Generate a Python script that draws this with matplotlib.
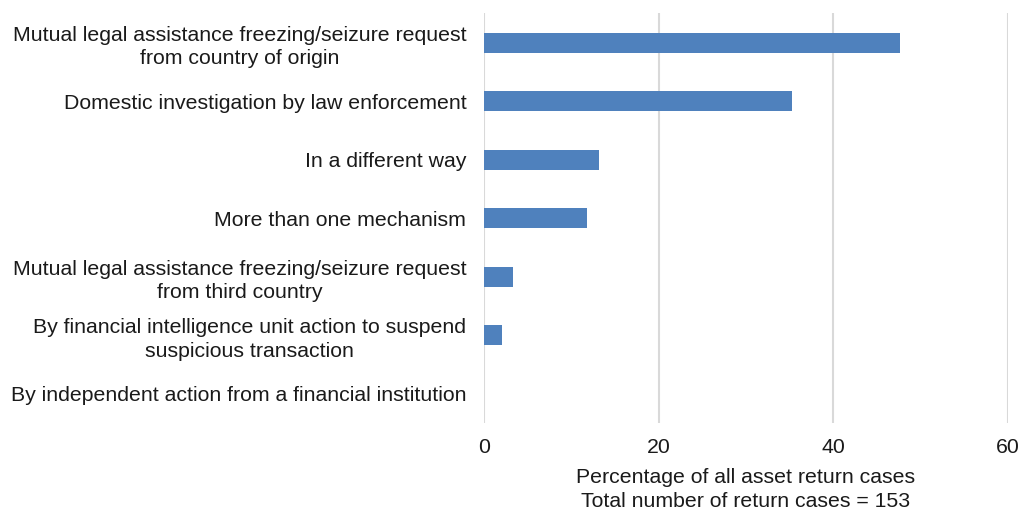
import matplotlib.pyplot as plt

plt.rcParams['font.family'] = ['Liberation Sans', 'DejaVu Sans']

labels = [
    'Mutual legal assistance freezing/seizure request\nfrom country of origin',
    'Domestic investigation by law enforcement',
    'In a different way',
    'More than one mechanism',
    'Mutual legal assistance freezing/seizure request\nfrom third country',
    'By financial intelligence unit action to suspend\nsuspicious transaction',
    'By independent action from a financial institution',
]
values = [47.7, 35.3, 13.1, 11.8, 3.3, 2.0, 0.0]
xticks = [0, 20, 40, 60]

fig = plt.figure(figsize=(10.22, 5.12), dpi=100)
ax = fig.add_axes([0.474, 0.174, 0.512, 0.80])

y = list(range(len(labels)))
ax.barh(y, values, height=0.34, color='#4f81bd', zorder=3)
ax.set_ylim(len(labels) - 0.5, -0.5)
ax.set_xlim(0, 60)
ax.set_xticks(xticks)
ax.set_yticks(y)
ax.set_yticklabels(labels, fontsize=15.3, color='#1a1a1a', linespacing=1.3)
ax.tick_params(axis='x', labelsize=15.3, colors='#1a1a1a', length=0, pad=11)
ax.tick_params(axis='y', length=0, pad=13)
for lab in ax.get_yticklabels():
    lab.set_horizontalalignment('right')
    lab.set_multialignment('center')
ax.grid(axis='x', color='#d9d9d9', linewidth=1.5, zorder=0)
for s in ax.spines.values():
    s.set_visible(False)
ax.set_xlabel('Percentage of all asset return cases\nTotal number of return cases = 153',
              fontsize=15.3, color='#1a1a1a', labelpad=8, linespacing=1.3)

fig.savefig('out.png', dpi=100)
